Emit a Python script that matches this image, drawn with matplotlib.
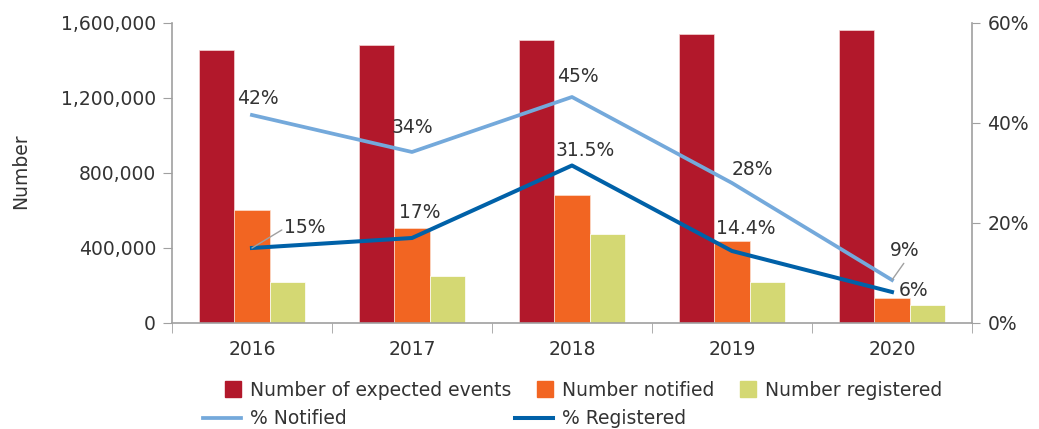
import numpy as np
import matplotlib.pyplot as plt
from matplotlib.ticker import FuncFormatter, FixedLocator
from matplotlib.patches import Patch, Rectangle
from matplotlib.lines import Line2D
from matplotlib.legend_handler import HandlerPatch

plt.rcParams['font.family'] = ['DejaVu Sans']

years = ['2016', '2017', '2018', '2019', '2020']
expected = [1456000, 1483000, 1509000, 1541000, 1563000]
notified = [603000, 507000, 683000, 437000, 133000]
registered = [219000, 251000, 475000, 219000, 96000]
pct_notified = [41.6, 34.2, 45.2, 28.0, 8.6]
pct_registered = [15.0, 17.0, 31.5, 14.4, 6.2]
lbl_notified = ['42%', '34%', '45%', '28%', '9%']
lbl_registered = ['15%', '17%', '31.5%', '14.4%', '6%']

c_exp = '#B2182B'
c_not = '#F26522'
c_reg = '#D4D873'
c_pn = '#74A9DB'
c_pr = '#0061A8'
grey = '#A0A0A0'
txt = '#333333'
fs = 13.5

fig = plt.figure(figsize=(10.39, 4.29), dpi=100)
ax = fig.add_axes([0.1655, 0.2471, 0.77, 0.6993])
x = np.arange(len(years))
w = 0.222
ax.bar(x - w, expected, w, color=c_exp, edgecolor='#f4d6d6', linewidth=0.5)
ax.bar(x, notified, w, color=c_not, edgecolor='#fbe0d0', linewidth=0.5)
ax.bar(x + w, registered, w, color=c_reg, edgecolor='white', linewidth=0.5)
ax.set_xlim(-0.5, 4.5)
ax.set_ylim(0, 1600000)
ax.set_yticks([0, 400000, 800000, 1200000, 1600000])
ax.yaxis.set_major_formatter(FuncFormatter(lambda v, p: f'{int(v):,}'))
ax.set_ylabel('Number', fontsize=fs, color=txt)
ax.yaxis.set_label_coords(-0.1775, 0.507)

ax.xaxis.set_major_locator(FixedLocator(x))
ax.set_xticklabels(years)
ax.xaxis.set_minor_locator(FixedLocator(np.arange(-0.5, 5, 1)))
ax.tick_params(axis='x', which='major', length=0, pad=12, labelsize=fs, labelcolor=txt)
ax.tick_params(axis='x', which='minor', length=7, color=grey, direction='out')
ax.tick_params(axis='y', length=6.5, color=grey, labelsize=fs, labelcolor=txt, pad=5)

for s in ['top', 'right']:
    ax.spines[s].set_visible(False)
for s in ['left', 'bottom']:
    ax.spines[s].set_color(grey)
    ax.spines[s].set_linewidth(1.2)

ax2 = ax.twinx()
ax2.set_ylim(0, 60)
ax2.set_yticks([0, 20, 40, 60])
ax2.yaxis.set_major_formatter(FuncFormatter(lambda v, p: f'{int(v)}%'))
ax2.tick_params(axis='y', length=6, color=grey, labelsize=fs, labelcolor=txt, pad=5)
for s in ['top', 'left', 'bottom']:
    ax2.spines[s].set_visible(False)
ax2.spines['right'].set_color(grey)
ax2.spines['right'].set_linewidth(1.2)

ax2.plot(x, pct_notified, color=c_pn, lw=2.7)
ax2.plot(x, pct_registered, color=c_pr, lw=2.9)

# data labels (offsets in points)
n_off = [(4.3, 12.2), (0, 17.3), (4.3, 14.4), (15, 10), (9, 21)]
r_off = [(38, 14.4), (5.8, 18), (9.4, 10.8), (10, 16.5), (15.8, 1.4)]
for i in range(len(years)):
    ax2.annotate(lbl_notified[i], (x[i], pct_notified[i]), xytext=n_off[i],
                 textcoords='offset points', ha='center', va='center',
                 fontsize=fs, color=txt)
    ax2.annotate(lbl_registered[i], (x[i], pct_registered[i]), xytext=r_off[i],
                 textcoords='offset points', ha='center', va='center',
                 fontsize=fs, color=txt)
# leader lines
ax2.annotate('', (x[0], pct_registered[0]), xytext=(21.5, 13), textcoords='offset points',
             arrowprops=dict(arrowstyle='-', color=grey, lw=1, shrinkA=0, shrinkB=0))
ax2.annotate('', (x[4], pct_notified[4]), xytext=(8.5, 12), textcoords='offset points',
             arrowprops=dict(arrowstyle='-', color=grey, lw=1, shrinkA=0, shrinkB=0))


def square(legend, orig_handle, xdescent, ydescent, width, height, fontsize):
    s = 11.5
    return Rectangle((-xdescent + width - s, -ydescent + (height - s) / 2), s, s)


handles = [Patch(color=c_exp), Line2D([], [], color=c_pn, lw=2.7),
           Patch(color=c_not), Line2D([], [], color=c_pr, lw=2.9),
           Patch(color=c_reg)]
labels = ['Number of expected events', '% Notified',
          'Number notified', '% Registered', 'Number registered']
fig.legend(handles, labels, loc='upper left', bbox_to_anchor=(0.1954, 0.1126),
           ncol=3, frameon=False, fontsize=fs, borderpad=0, borderaxespad=0,
           handlelength=2.0, handletextpad=0.5, columnspacing=0.2,
           labelspacing=0.5, labelcolor=txt,
           handler_map={Patch: HandlerPatch(patch_func=square)})

fig.savefig('out.png', dpi=100)
